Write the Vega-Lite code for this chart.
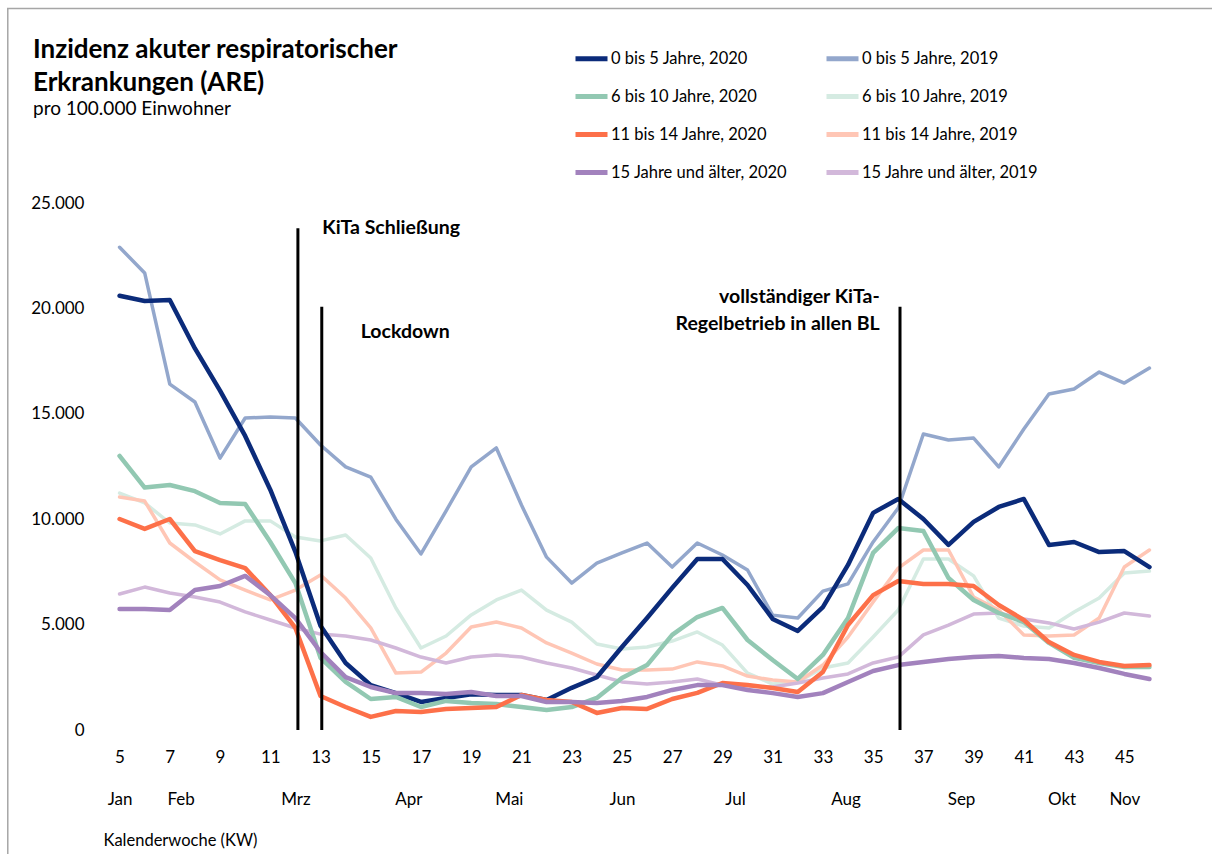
{
  "$schema": "https://vega.github.io/schema/vega-lite/v6.json",
  "width": 1055,
  "height": 527,
  "autosize": {"type": "none"},
  "padding": {"left": 107, "top": 203, "right": 50, "bottom": 124},
  "background": "white",
  "title": {
    "text": ["Inzidenz akuter respiratorischer", "Erkrankungen (ARE)"],
    "subtitle": "pro 100.000 Einwohner",
    "anchor": "start",
    "frame": "group",
    "dx": -74,
    "offset": -111,
    "font": "Lato",
    "fontSize": 26,
    "fontWeight": "bold",
    "lineHeight": 33,
    "color": "#000000",
    "subtitleFont": "Lato",
    "subtitleFontSize": 19,
    "subtitleColor": "#000000",
    "subtitlePadding": 4
  },
  "config": {
    "view": {"stroke": null},
    "font": "Lato",
    "axis": {"labelFont": "Lato", "titleFont": "Lato", "labelColor": "#000000", "titleColor": "#000000"},
    "legend": {"labelFont": "Lato"}
  },
  "datasets": {
    "kurven": [
      {"g": "0 bis 5 Jahre, 2020", "kw": 5, "v": 20600}, {"g": "0 bis 5 Jahre, 2020", "kw": 6, "v": 20350}, {"g": "0 bis 5 Jahre, 2020", "kw": 7, "v": 20400}, {"g": "0 bis 5 Jahre, 2020", "kw": 8, "v": 18100}, {"g": "0 bis 5 Jahre, 2020", "kw": 9, "v": 16100}, {"g": "0 bis 5 Jahre, 2020", "kw": 10, "v": 13950}, {"g": "0 bis 5 Jahre, 2020", "kw": 11, "v": 11400}, {"g": "0 bis 5 Jahre, 2020", "kw": 12, "v": 8450}, {"g": "0 bis 5 Jahre, 2020", "kw": 13, "v": 4950}, {"g": "0 bis 5 Jahre, 2020", "kw": 14, "v": 3180}, {"g": "0 bis 5 Jahre, 2020", "kw": 15, "v": 2130}, {"g": "0 bis 5 Jahre, 2020", "kw": 16, "v": 1750}, {"g": "0 bis 5 Jahre, 2020", "kw": 17, "v": 1330}, {"g": "0 bis 5 Jahre, 2020", "kw": 18, "v": 1520}, {"g": "0 bis 5 Jahre, 2020", "kw": 19, "v": 1700}, {"g": "0 bis 5 Jahre, 2020", "kw": 20, "v": 1660}, {"g": "0 bis 5 Jahre, 2020", "kw": 21, "v": 1660}, {"g": "0 bis 5 Jahre, 2020", "kw": 22, "v": 1420}, {"g": "0 bis 5 Jahre, 2020", "kw": 23, "v": 2000}, {"g": "0 bis 5 Jahre, 2020", "kw": 24, "v": 2500}, {"g": "0 bis 5 Jahre, 2020", "kw": 25, "v": 3940}, {"g": "0 bis 5 Jahre, 2020", "kw": 26, "v": 5310}, {"g": "0 bis 5 Jahre, 2020", "kw": 27, "v": 6740}, {"g": "0 bis 5 Jahre, 2020", "kw": 28, "v": 8110}, {"g": "0 bis 5 Jahre, 2020", "kw": 29, "v": 8110}, {"g": "0 bis 5 Jahre, 2020", "kw": 30, "v": 6880}, {"g": "0 bis 5 Jahre, 2020", "kw": 31, "v": 5270}, {"g": "0 bis 5 Jahre, 2020", "kw": 32, "v": 4700}, {"g": "0 bis 5 Jahre, 2020", "kw": 33, "v": 5830}, {"g": "0 bis 5 Jahre, 2020", "kw": 34, "v": 7830}, {"g": "0 bis 5 Jahre, 2020", "kw": 35, "v": 10300}, {"g": "0 bis 5 Jahre, 2020", "kw": 36, "v": 10960}, {"g": "0 bis 5 Jahre, 2020", "kw": 37, "v": 10010}, {"g": "0 bis 5 Jahre, 2020", "kw": 38, "v": 8780}, {"g": "0 bis 5 Jahre, 2020", "kw": 39, "v": 9870}, {"g": "0 bis 5 Jahre, 2020", "kw": 40, "v": 10580}, {"g": "0 bis 5 Jahre, 2020", "kw": 41, "v": 10960}, {"g": "0 bis 5 Jahre, 2020", "kw": 42, "v": 8780}, {"g": "0 bis 5 Jahre, 2020", "kw": 43, "v": 8920}, {"g": "0 bis 5 Jahre, 2020", "kw": 44, "v": 8440}, {"g": "0 bis 5 Jahre, 2020", "kw": 45, "v": 8490}, {"g": "0 bis 5 Jahre, 2020", "kw": 46, "v": 7730},
      {"g": "0 bis 5 Jahre, 2019", "kw": 5, "v": 22900}, {"g": "0 bis 5 Jahre, 2019", "kw": 6, "v": 21680}, {"g": "0 bis 5 Jahre, 2019", "kw": 7, "v": 16410}, {"g": "0 bis 5 Jahre, 2019", "kw": 8, "v": 15560}, {"g": "0 bis 5 Jahre, 2019", "kw": 9, "v": 12900}, {"g": "0 bis 5 Jahre, 2019", "kw": 10, "v": 14800}, {"g": "0 bis 5 Jahre, 2019", "kw": 11, "v": 14850}, {"g": "0 bis 5 Jahre, 2019", "kw": 12, "v": 14800}, {"g": "0 bis 5 Jahre, 2019", "kw": 13, "v": 13520}, {"g": "0 bis 5 Jahre, 2019", "kw": 14, "v": 12480}, {"g": "0 bis 5 Jahre, 2019", "kw": 15, "v": 12000}, {"g": "0 bis 5 Jahre, 2019", "kw": 16, "v": 10000}, {"g": "0 bis 5 Jahre, 2019", "kw": 17, "v": 8350}, {"g": "0 bis 5 Jahre, 2019", "kw": 18, "v": 10400}, {"g": "0 bis 5 Jahre, 2019", "kw": 19, "v": 12480}, {"g": "0 bis 5 Jahre, 2019", "kw": 20, "v": 13380}, {"g": "0 bis 5 Jahre, 2019", "kw": 21, "v": 10670}, {"g": "0 bis 5 Jahre, 2019", "kw": 22, "v": 8200}, {"g": "0 bis 5 Jahre, 2019", "kw": 23, "v": 6970}, {"g": "0 bis 5 Jahre, 2019", "kw": 24, "v": 7920}, {"g": "0 bis 5 Jahre, 2019", "kw": 25, "v": 8400}, {"g": "0 bis 5 Jahre, 2019", "kw": 26, "v": 8870}, {"g": "0 bis 5 Jahre, 2019", "kw": 27, "v": 7730}, {"g": "0 bis 5 Jahre, 2019", "kw": 28, "v": 8870}, {"g": "0 bis 5 Jahre, 2019", "kw": 29, "v": 8300}, {"g": "0 bis 5 Jahre, 2019", "kw": 30, "v": 7590}, {"g": "0 bis 5 Jahre, 2019", "kw": 31, "v": 5450}, {"g": "0 bis 5 Jahre, 2019", "kw": 32, "v": 5310}, {"g": "0 bis 5 Jahre, 2019", "kw": 33, "v": 6590}, {"g": "0 bis 5 Jahre, 2019", "kw": 34, "v": 6930}, {"g": "0 bis 5 Jahre, 2019", "kw": 35, "v": 8920}, {"g": "0 bis 5 Jahre, 2019", "kw": 36, "v": 10530}, {"g": "0 bis 5 Jahre, 2019", "kw": 37, "v": 14040}, {"g": "0 bis 5 Jahre, 2019", "kw": 38, "v": 13760}, {"g": "0 bis 5 Jahre, 2019", "kw": 39, "v": 13850}, {"g": "0 bis 5 Jahre, 2019", "kw": 40, "v": 12480}, {"g": "0 bis 5 Jahre, 2019", "kw": 41, "v": 14280}, {"g": "0 bis 5 Jahre, 2019", "kw": 42, "v": 15940}, {"g": "0 bis 5 Jahre, 2019", "kw": 43, "v": 16180}, {"g": "0 bis 5 Jahre, 2019", "kw": 44, "v": 16980}, {"g": "0 bis 5 Jahre, 2019", "kw": 45, "v": 16460}, {"g": "0 bis 5 Jahre, 2019", "kw": 46, "v": 17170},
      {"g": "6 bis 10 Jahre, 2020", "kw": 5, "v": 13000}, {"g": "6 bis 10 Jahre, 2020", "kw": 6, "v": 11500}, {"g": "6 bis 10 Jahre, 2020", "kw": 7, "v": 11620}, {"g": "6 bis 10 Jahre, 2020", "kw": 8, "v": 11330}, {"g": "6 bis 10 Jahre, 2020", "kw": 9, "v": 10770}, {"g": "6 bis 10 Jahre, 2020", "kw": 10, "v": 10720}, {"g": "6 bis 10 Jahre, 2020", "kw": 11, "v": 8920}, {"g": "6 bis 10 Jahre, 2020", "kw": 12, "v": 6970}, {"g": "6 bis 10 Jahre, 2020", "kw": 13, "v": 3420}, {"g": "6 bis 10 Jahre, 2020", "kw": 14, "v": 2280}, {"g": "6 bis 10 Jahre, 2020", "kw": 15, "v": 1470}, {"g": "6 bis 10 Jahre, 2020", "kw": 16, "v": 1570}, {"g": "6 bis 10 Jahre, 2020", "kw": 17, "v": 1090}, {"g": "6 bis 10 Jahre, 2020", "kw": 18, "v": 1380}, {"g": "6 bis 10 Jahre, 2020", "kw": 19, "v": 1280}, {"g": "6 bis 10 Jahre, 2020", "kw": 20, "v": 1230}, {"g": "6 bis 10 Jahre, 2020", "kw": 21, "v": 1090}, {"g": "6 bis 10 Jahre, 2020", "kw": 22, "v": 950}, {"g": "6 bis 10 Jahre, 2020", "kw": 23, "v": 1090}, {"g": "6 bis 10 Jahre, 2020", "kw": 24, "v": 1520}, {"g": "6 bis 10 Jahre, 2020", "kw": 25, "v": 2470}, {"g": "6 bis 10 Jahre, 2020", "kw": 26, "v": 3080}, {"g": "6 bis 10 Jahre, 2020", "kw": 27, "v": 4510}, {"g": "6 bis 10 Jahre, 2020", "kw": 28, "v": 5360}, {"g": "6 bis 10 Jahre, 2020", "kw": 29, "v": 5790}, {"g": "6 bis 10 Jahre, 2020", "kw": 30, "v": 4270}, {"g": "6 bis 10 Jahre, 2020", "kw": 31, "v": 3320}, {"g": "6 bis 10 Jahre, 2020", "kw": 32, "v": 2420}, {"g": "6 bis 10 Jahre, 2020", "kw": 33, "v": 3560}, {"g": "6 bis 10 Jahre, 2020", "kw": 34, "v": 5310}, {"g": "6 bis 10 Jahre, 2020", "kw": 35, "v": 8400}, {"g": "6 bis 10 Jahre, 2020", "kw": 36, "v": 9580}, {"g": "6 bis 10 Jahre, 2020", "kw": 37, "v": 9440}, {"g": "6 bis 10 Jahre, 2020", "kw": 38, "v": 7210}, {"g": "6 bis 10 Jahre, 2020", "kw": 39, "v": 6170}, {"g": "6 bis 10 Jahre, 2020", "kw": 40, "v": 5550}, {"g": "6 bis 10 Jahre, 2020", "kw": 41, "v": 5120}, {"g": "6 bis 10 Jahre, 2020", "kw": 42, "v": 4130}, {"g": "6 bis 10 Jahre, 2020", "kw": 43, "v": 3420}, {"g": "6 bis 10 Jahre, 2020", "kw": 44, "v": 3180}, {"g": "6 bis 10 Jahre, 2020", "kw": 45, "v": 2990}, {"g": "6 bis 10 Jahre, 2020", "kw": 46, "v": 2990},
      {"g": "6 bis 10 Jahre, 2019", "kw": 5, "v": 11240}, {"g": "6 bis 10 Jahre, 2019", "kw": 6, "v": 10770}, {"g": "6 bis 10 Jahre, 2019", "kw": 7, "v": 9820}, {"g": "6 bis 10 Jahre, 2019", "kw": 8, "v": 9730}, {"g": "6 bis 10 Jahre, 2019", "kw": 9, "v": 9300}, {"g": "6 bis 10 Jahre, 2019", "kw": 10, "v": 9920}, {"g": "6 bis 10 Jahre, 2019", "kw": 11, "v": 9920}, {"g": "6 bis 10 Jahre, 2019", "kw": 12, "v": 9160}, {"g": "6 bis 10 Jahre, 2019", "kw": 13, "v": 8970}, {"g": "6 bis 10 Jahre, 2019", "kw": 14, "v": 9250}, {"g": "6 bis 10 Jahre, 2019", "kw": 15, "v": 8160}, {"g": "6 bis 10 Jahre, 2019", "kw": 16, "v": 5790}, {"g": "6 bis 10 Jahre, 2019", "kw": 17, "v": 3890}, {"g": "6 bis 10 Jahre, 2019", "kw": 18, "v": 4460}, {"g": "6 bis 10 Jahre, 2019", "kw": 19, "v": 5460}, {"g": "6 bis 10 Jahre, 2019", "kw": 20, "v": 6170}, {"g": "6 bis 10 Jahre, 2019", "kw": 21, "v": 6640}, {"g": "6 bis 10 Jahre, 2019", "kw": 22, "v": 5690}, {"g": "6 bis 10 Jahre, 2019", "kw": 23, "v": 5120}, {"g": "6 bis 10 Jahre, 2019", "kw": 24, "v": 4080}, {"g": "6 bis 10 Jahre, 2019", "kw": 25, "v": 3840}, {"g": "6 bis 10 Jahre, 2019", "kw": 26, "v": 3940}, {"g": "6 bis 10 Jahre, 2019", "kw": 27, "v": 4220}, {"g": "6 bis 10 Jahre, 2019", "kw": 28, "v": 4650}, {"g": "6 bis 10 Jahre, 2019", "kw": 29, "v": 4030}, {"g": "6 bis 10 Jahre, 2019", "kw": 30, "v": 2700}, {"g": "6 bis 10 Jahre, 2019", "kw": 31, "v": 2180}, {"g": "6 bis 10 Jahre, 2019", "kw": 32, "v": 2280}, {"g": "6 bis 10 Jahre, 2019", "kw": 33, "v": 2940}, {"g": "6 bis 10 Jahre, 2019", "kw": 34, "v": 3180}, {"g": "6 bis 10 Jahre, 2019", "kw": 35, "v": 4410}, {"g": "6 bis 10 Jahre, 2019", "kw": 36, "v": 5690}, {"g": "6 bis 10 Jahre, 2019", "kw": 37, "v": 8110}, {"g": "6 bis 10 Jahre, 2019", "kw": 38, "v": 8110}, {"g": "6 bis 10 Jahre, 2019", "kw": 39, "v": 7310}, {"g": "6 bis 10 Jahre, 2019", "kw": 40, "v": 5310}, {"g": "6 bis 10 Jahre, 2019", "kw": 41, "v": 4930}, {"g": "6 bis 10 Jahre, 2019", "kw": 42, "v": 4840}, {"g": "6 bis 10 Jahre, 2019", "kw": 43, "v": 5600}, {"g": "6 bis 10 Jahre, 2019", "kw": 44, "v": 6260}, {"g": "6 bis 10 Jahre, 2019", "kw": 45, "v": 7450}, {"g": "6 bis 10 Jahre, 2019", "kw": 46, "v": 7540},
      {"g": "11 bis 14 Jahre, 2020", "kw": 5, "v": 10010}, {"g": "11 bis 14 Jahre, 2020", "kw": 6, "v": 9540}, {"g": "11 bis 14 Jahre, 2020", "kw": 7, "v": 10010}, {"g": "11 bis 14 Jahre, 2020", "kw": 8, "v": 8490}, {"g": "11 bis 14 Jahre, 2020", "kw": 9, "v": 8060}, {"g": "11 bis 14 Jahre, 2020", "kw": 10, "v": 7680}, {"g": "11 bis 14 Jahre, 2020", "kw": 11, "v": 6400}, {"g": "11 bis 14 Jahre, 2020", "kw": 12, "v": 4840}, {"g": "11 bis 14 Jahre, 2020", "kw": 13, "v": 1610}, {"g": "11 bis 14 Jahre, 2020", "kw": 14, "v": 1090}, {"g": "11 bis 14 Jahre, 2020", "kw": 15, "v": 620}, {"g": "11 bis 14 Jahre, 2020", "kw": 16, "v": 900}, {"g": "11 bis 14 Jahre, 2020", "kw": 17, "v": 850}, {"g": "11 bis 14 Jahre, 2020", "kw": 18, "v": 1000}, {"g": "11 bis 14 Jahre, 2020", "kw": 19, "v": 1040}, {"g": "11 bis 14 Jahre, 2020", "kw": 20, "v": 1090}, {"g": "11 bis 14 Jahre, 2020", "kw": 21, "v": 1660}, {"g": "11 bis 14 Jahre, 2020", "kw": 22, "v": 1420}, {"g": "11 bis 14 Jahre, 2020", "kw": 23, "v": 1330}, {"g": "11 bis 14 Jahre, 2020", "kw": 24, "v": 810}, {"g": "11 bis 14 Jahre, 2020", "kw": 25, "v": 1040}, {"g": "11 bis 14 Jahre, 2020", "kw": 26, "v": 1000}, {"g": "11 bis 14 Jahre, 2020", "kw": 27, "v": 1470}, {"g": "11 bis 14 Jahre, 2020", "kw": 28, "v": 1760}, {"g": "11 bis 14 Jahre, 2020", "kw": 29, "v": 2230}, {"g": "11 bis 14 Jahre, 2020", "kw": 30, "v": 2130}, {"g": "11 bis 14 Jahre, 2020", "kw": 31, "v": 1990}, {"g": "11 bis 14 Jahre, 2020", "kw": 32, "v": 1800}, {"g": "11 bis 14 Jahre, 2020", "kw": 33, "v": 2750}, {"g": "11 bis 14 Jahre, 2020", "kw": 34, "v": 4980}, {"g": "11 bis 14 Jahre, 2020", "kw": 35, "v": 6400}, {"g": "11 bis 14 Jahre, 2020", "kw": 36, "v": 7070}, {"g": "11 bis 14 Jahre, 2020", "kw": 37, "v": 6930}, {"g": "11 bis 14 Jahre, 2020", "kw": 38, "v": 6930}, {"g": "11 bis 14 Jahre, 2020", "kw": 39, "v": 6830}, {"g": "11 bis 14 Jahre, 2020", "kw": 40, "v": 5930}, {"g": "11 bis 14 Jahre, 2020", "kw": 41, "v": 5220}, {"g": "11 bis 14 Jahre, 2020", "kw": 42, "v": 4170}, {"g": "11 bis 14 Jahre, 2020", "kw": 43, "v": 3560}, {"g": "11 bis 14 Jahre, 2020", "kw": 44, "v": 3230}, {"g": "11 bis 14 Jahre, 2020", "kw": 45, "v": 3040}, {"g": "11 bis 14 Jahre, 2020", "kw": 46, "v": 3080},
      {"g": "11 bis 14 Jahre, 2019", "kw": 5, "v": 11050}, {"g": "11 bis 14 Jahre, 2019", "kw": 6, "v": 10860}, {"g": "11 bis 14 Jahre, 2019", "kw": 7, "v": 8870}, {"g": "11 bis 14 Jahre, 2019", "kw": 8, "v": 7970}, {"g": "11 bis 14 Jahre, 2019", "kw": 9, "v": 7120}, {"g": "11 bis 14 Jahre, 2019", "kw": 10, "v": 6640}, {"g": "11 bis 14 Jahre, 2019", "kw": 11, "v": 6170}, {"g": "11 bis 14 Jahre, 2019", "kw": 12, "v": 6640}, {"g": "11 bis 14 Jahre, 2019", "kw": 13, "v": 7350}, {"g": "11 bis 14 Jahre, 2019", "kw": 14, "v": 6260}, {"g": "11 bis 14 Jahre, 2019", "kw": 15, "v": 4840}, {"g": "11 bis 14 Jahre, 2019", "kw": 16, "v": 2700}, {"g": "11 bis 14 Jahre, 2019", "kw": 17, "v": 2750}, {"g": "11 bis 14 Jahre, 2019", "kw": 18, "v": 3650}, {"g": "11 bis 14 Jahre, 2019", "kw": 19, "v": 4890}, {"g": "11 bis 14 Jahre, 2019", "kw": 20, "v": 5120}, {"g": "11 bis 14 Jahre, 2019", "kw": 21, "v": 4840}, {"g": "11 bis 14 Jahre, 2019", "kw": 22, "v": 4130}, {"g": "11 bis 14 Jahre, 2019", "kw": 23, "v": 3650}, {"g": "11 bis 14 Jahre, 2019", "kw": 24, "v": 3130}, {"g": "11 bis 14 Jahre, 2019", "kw": 25, "v": 2850}, {"g": "11 bis 14 Jahre, 2019", "kw": 26, "v": 2850}, {"g": "11 bis 14 Jahre, 2019", "kw": 27, "v": 2890}, {"g": "11 bis 14 Jahre, 2019", "kw": 28, "v": 3230}, {"g": "11 bis 14 Jahre, 2019", "kw": 29, "v": 3040}, {"g": "11 bis 14 Jahre, 2019", "kw": 30, "v": 2560}, {"g": "11 bis 14 Jahre, 2019", "kw": 31, "v": 2370}, {"g": "11 bis 14 Jahre, 2019", "kw": 32, "v": 2280}, {"g": "11 bis 14 Jahre, 2019", "kw": 33, "v": 3080}, {"g": "11 bis 14 Jahre, 2019", "kw": 34, "v": 4410}, {"g": "11 bis 14 Jahre, 2019", "kw": 35, "v": 6070}, {"g": "11 bis 14 Jahre, 2019", "kw": 36, "v": 7680}, {"g": "11 bis 14 Jahre, 2019", "kw": 37, "v": 8540}, {"g": "11 bis 14 Jahre, 2019", "kw": 38, "v": 8540}, {"g": "11 bis 14 Jahre, 2019", "kw": 39, "v": 6310}, {"g": "11 bis 14 Jahre, 2019", "kw": 40, "v": 5690}, {"g": "11 bis 14 Jahre, 2019", "kw": 41, "v": 4510}, {"g": "11 bis 14 Jahre, 2019", "kw": 42, "v": 4460}, {"g": "11 bis 14 Jahre, 2019", "kw": 43, "v": 4510}, {"g": "11 bis 14 Jahre, 2019", "kw": 44, "v": 5310}, {"g": "11 bis 14 Jahre, 2019", "kw": 45, "v": 7730}, {"g": "11 bis 14 Jahre, 2019", "kw": 46, "v": 8540},
      {"g": "15 Jahre und älter, 2020", "kw": 5, "v": 5740}, {"g": "15 Jahre und älter, 2020", "kw": 6, "v": 5740}, {"g": "15 Jahre und älter, 2020", "kw": 7, "v": 5690}, {"g": "15 Jahre und älter, 2020", "kw": 8, "v": 6640}, {"g": "15 Jahre und älter, 2020", "kw": 9, "v": 6830}, {"g": "15 Jahre und älter, 2020", "kw": 10, "v": 7310}, {"g": "15 Jahre und älter, 2020", "kw": 11, "v": 6400}, {"g": "15 Jahre und älter, 2020", "kw": 12, "v": 5310}, {"g": "15 Jahre und älter, 2020", "kw": 13, "v": 3700}, {"g": "15 Jahre und älter, 2020", "kw": 14, "v": 2510}, {"g": "15 Jahre und älter, 2020", "kw": 15, "v": 2040}, {"g": "15 Jahre und älter, 2020", "kw": 16, "v": 1750}, {"g": "15 Jahre und älter, 2020", "kw": 17, "v": 1750}, {"g": "15 Jahre und älter, 2020", "kw": 18, "v": 1710}, {"g": "15 Jahre und älter, 2020", "kw": 19, "v": 1800}, {"g": "15 Jahre und älter, 2020", "kw": 20, "v": 1610}, {"g": "15 Jahre und älter, 2020", "kw": 21, "v": 1610}, {"g": "15 Jahre und älter, 2020", "kw": 22, "v": 1330}, {"g": "15 Jahre und älter, 2020", "kw": 23, "v": 1330}, {"g": "15 Jahre und älter, 2020", "kw": 24, "v": 1280}, {"g": "15 Jahre und älter, 2020", "kw": 25, "v": 1380}, {"g": "15 Jahre und älter, 2020", "kw": 26, "v": 1570}, {"g": "15 Jahre und älter, 2020", "kw": 27, "v": 1900}, {"g": "15 Jahre und älter, 2020", "kw": 28, "v": 2130}, {"g": "15 Jahre und älter, 2020", "kw": 29, "v": 2130}, {"g": "15 Jahre und älter, 2020", "kw": 30, "v": 1900}, {"g": "15 Jahre und älter, 2020", "kw": 31, "v": 1750}, {"g": "15 Jahre und älter, 2020", "kw": 32, "v": 1570}, {"g": "15 Jahre und älter, 2020", "kw": 33, "v": 1750}, {"g": "15 Jahre und älter, 2020", "kw": 34, "v": 2280}, {"g": "15 Jahre und älter, 2020", "kw": 35, "v": 2800}, {"g": "15 Jahre und älter, 2020", "kw": 36, "v": 3080}, {"g": "15 Jahre und älter, 2020", "kw": 37, "v": 3230}, {"g": "15 Jahre und älter, 2020", "kw": 38, "v": 3370}, {"g": "15 Jahre und älter, 2020", "kw": 39, "v": 3460}, {"g": "15 Jahre und älter, 2020", "kw": 40, "v": 3510}, {"g": "15 Jahre und älter, 2020", "kw": 41, "v": 3420}, {"g": "15 Jahre und älter, 2020", "kw": 42, "v": 3370}, {"g": "15 Jahre und älter, 2020", "kw": 43, "v": 3180}, {"g": "15 Jahre und älter, 2020", "kw": 44, "v": 2940}, {"g": "15 Jahre und älter, 2020", "kw": 45, "v": 2660}, {"g": "15 Jahre und älter, 2020", "kw": 46, "v": 2420},
      {"g": "15 Jahre und älter, 2019", "kw": 5, "v": 6450}, {"g": "15 Jahre und älter, 2019", "kw": 6, "v": 6780}, {"g": "15 Jahre und älter, 2019", "kw": 7, "v": 6500}, {"g": "15 Jahre und älter, 2019", "kw": 8, "v": 6310}, {"g": "15 Jahre und älter, 2019", "kw": 9, "v": 6070}, {"g": "15 Jahre und älter, 2019", "kw": 10, "v": 5600}, {"g": "15 Jahre und älter, 2019", "kw": 11, "v": 5220}, {"g": "15 Jahre und älter, 2019", "kw": 12, "v": 4840}, {"g": "15 Jahre und älter, 2019", "kw": 13, "v": 4550}, {"g": "15 Jahre und älter, 2019", "kw": 14, "v": 4460}, {"g": "15 Jahre und älter, 2019", "kw": 15, "v": 4270}, {"g": "15 Jahre und älter, 2019", "kw": 16, "v": 3890}, {"g": "15 Jahre und älter, 2019", "kw": 17, "v": 3460}, {"g": "15 Jahre und älter, 2019", "kw": 18, "v": 3180}, {"g": "15 Jahre und älter, 2019", "kw": 19, "v": 3460}, {"g": "15 Jahre und älter, 2019", "kw": 20, "v": 3560}, {"g": "15 Jahre und älter, 2019", "kw": 21, "v": 3460}, {"g": "15 Jahre und älter, 2019", "kw": 22, "v": 3180}, {"g": "15 Jahre und älter, 2019", "kw": 23, "v": 2940}, {"g": "15 Jahre und älter, 2019", "kw": 24, "v": 2610}, {"g": "15 Jahre und älter, 2019", "kw": 25, "v": 2280}, {"g": "15 Jahre und älter, 2019", "kw": 26, "v": 2180}, {"g": "15 Jahre und älter, 2019", "kw": 27, "v": 2280}, {"g": "15 Jahre und älter, 2019", "kw": 28, "v": 2420}, {"g": "15 Jahre und älter, 2019", "kw": 29, "v": 2130}, {"g": "15 Jahre und älter, 2019", "kw": 30, "v": 2090}, {"g": "15 Jahre und älter, 2019", "kw": 31, "v": 2040}, {"g": "15 Jahre und älter, 2019", "kw": 32, "v": 2230}, {"g": "15 Jahre und älter, 2019", "kw": 33, "v": 2470}, {"g": "15 Jahre und älter, 2019", "kw": 34, "v": 2660}, {"g": "15 Jahre und älter, 2019", "kw": 35, "v": 3180}, {"g": "15 Jahre und älter, 2019", "kw": 36, "v": 3460}, {"g": "15 Jahre und älter, 2019", "kw": 37, "v": 4510}, {"g": "15 Jahre und älter, 2019", "kw": 38, "v": 4980}, {"g": "15 Jahre und älter, 2019", "kw": 39, "v": 5500}, {"g": "15 Jahre und älter, 2019", "kw": 40, "v": 5550}, {"g": "15 Jahre und älter, 2019", "kw": 41, "v": 5270}, {"g": "15 Jahre und älter, 2019", "kw": 42, "v": 5080}, {"g": "15 Jahre und älter, 2019", "kw": 43, "v": 4790}, {"g": "15 Jahre und älter, 2019", "kw": 44, "v": 5120}, {"g": "15 Jahre und älter, 2019", "kw": 45, "v": 5550}, {"g": "15 Jahre und älter, 2019", "kw": 46, "v": 5410}
    ],
    "ereignisse": [
      {"kw": 12.1, "oben": 23800},
      {"kw": 13.05, "oben": 20080},
      {"kw": 36.07, "oben": 20080}
    ],
    "links": [
      {"kw": 13.07, "v": 23810, "t": "KiTa Schließung"},
      {"kw": 14.6, "v": 18880, "t": "Lockdown"}
    ],
    "rechts": [
      {"kw": 35.26, "v": 20540, "t": "vollständiger KiTa-"},
      {"kw": 35.26, "v": 19260, "t": "Regelbetrieb in allen BL"}
    ]
  },
  "resolve": {"axis": {"x": "independent", "y": "independent"}},
  "layer": [
    {
      "data": {"values": [{}]},
      "mark": {"type": "rect", "fill": null, "stroke": "#a6a6a6", "strokeWidth": 1.5, "clip": false},
      "encoding": {
        "x": {"datum": 0.55, "type": "quantitative", "axis": null},
        "x2": {"datum": 49},
        "y": {"datum": 34230, "type": "quantitative", "axis": null},
        "y2": {"datum": -8000}
      }
    },
    {
      "data": {"name": "kurven"},
      "transform": [{"filter": "indexof(datum.g, '2019') >= 0"}],
      "mark": {"type": "line", "strokeWidth": 3.5, "strokeJoin": "round", "strokeCap": "round"},
      "encoding": {
        "x": {
          "field": "kw", "type": "quantitative",
          "scale": {"domain": [4.5, 46.5], "nice": false, "zero": false},
          "axis": {
            "orient": "bottom",
            "values": [5, 7, 9, 11, 13, 15, 17, 19, 21, 23, 25, 27, 29, 31, 33, 35, 37, 39, 41, 43, 45],
            "grid": false, "domain": false, "ticks": false, "tickSize": 0,
            "labelFontSize": 17, "labelPadding": 19, "labelFlush": false,
            "title": null
          }
        },
        "y": {
          "field": "v", "type": "quantitative",
          "scale": {"domain": [0, 25000], "nice": false},
          "axis": {
            "orient": "left",
            "values": [0, 2500, 5000, 7500, 10000, 12500, 15000, 17500, 20000, 22500, 25000],
            "labelExpr": "datum.value % 5000 === 0 ? replace(format(datum.value, ','), ',', '.') : ''",
            "domain": false, "ticks": false, "tickSize": 0,
            "labelFontSize": 17, "labelPadding": 23,
            "gridColor": {"condition": {"test": "datum.value % 5000 === 0", "value": "#9a9a9a"}, "value": "#b4b4b4"},
            "gridDash": {"condition": {"test": "datum.value % 5000 === 0", "value": []}, "value": [2, 2]},
            "gridWidth": 1.2,
            "title": null
          }
        },
        "color": {
          "field": "g", "type": "nominal",
          "scale": {
            "domain": ["0 bis 5 Jahre, 2020", "0 bis 5 Jahre, 2019", "6 bis 10 Jahre, 2020", "6 bis 10 Jahre, 2019", "11 bis 14 Jahre, 2020", "11 bis 14 Jahre, 2019", "15 Jahre und älter, 2020", "15 Jahre und älter, 2019"],
            "range": ["#0b2b7a", "#93a7cc", "#92c8b2", "#d5ebe2", "#fd7049", "#ffc6b5", "#a282bd", "#d2b8da"]
          },
          "legend": {
            "title": null,
            "orient": "none",
            "direction": "horizontal",
            "legendX": 466,
            "legendY": -163,
            "columns": 2,
            "columnPadding": 28,
            "rowPadding": 9,
            "padding": 0,
            "symbolType": "stroke",
            "symbolSize": 1024,
            "symbolStrokeWidth": 5,
            "labelFontSize": 16.5,
            "labelOffset": 1,
            "labelColor": "#000000",
            "labelLimit": 400
          }
        }
      }
    },
    {
      "data": {"name": "kurven"},
      "transform": [{"filter": "indexof(datum.g, '2020') >= 0"}],
      "mark": {"type": "line", "strokeWidth": 4.5, "strokeJoin": "round", "strokeCap": "round"},
      "encoding": {
        "x": {"field": "kw", "type": "quantitative", "axis": null},
        "y": {"field": "v", "type": "quantitative", "axis": null},
        "color": {"field": "g", "type": "nominal"}
      }
    },
    {
      "data": {"name": "ereignisse"},
      "mark": {"type": "rule", "color": "#000000", "strokeWidth": 3},
      "encoding": {
        "x": {
          "field": "kw", "type": "quantitative",
          "axis": {
            "orient": "bottom",
            "values": [5, 7.43, 12, 16.5, 20.5, 25, 29.5, 33.9, 38.5, 42.5, 45],
            "labelExpr": "['Jan','Feb','Mrz','Apr','Mai','Jun','Jul','Aug','Sep','Okt','Nov'][indexof([5, 7.43, 12, 16.5, 20.5, 25, 29.5, 33.9, 38.5, 42.5, 45], datum.value)]",
            "grid": false, "domain": false, "ticks": false, "tickSize": 0,
            "labelFontSize": 17, "labelPadding": 61, "labelFlush": false,
            "title": "Kalenderwoche (KW)",
            "titleFontSize": 16.5, "titleFontWeight": "normal",
            "titleAnchor": "start", "titleAlign": "left", "titleX": -4, "titlePadding": 25
          }
        },
        "y": {"field": "oben", "type": "quantitative", "axis": null},
        "y2": {"datum": 0}
      }
    },
    {
      "data": {"name": "links"},
      "mark": {"type": "text", "align": "left", "baseline": "middle", "fontWeight": "bold", "fontSize": 19.5, "font": "Lato", "color": "#000000"},
      "encoding": {
        "x": {"field": "kw", "type": "quantitative", "axis": null},
        "y": {"field": "v", "type": "quantitative", "axis": null},
        "text": {"field": "t"}
      }
    },
    {
      "data": {"name": "rechts"},
      "mark": {"type": "text", "align": "right", "baseline": "middle", "fontWeight": "bold", "fontSize": 19.5, "font": "Lato", "color": "#000000"},
      "encoding": {
        "x": {"field": "kw", "type": "quantitative", "axis": null},
        "y": {"field": "v", "type": "quantitative", "axis": null},
        "text": {"field": "t"}
      }
    }
  ]
}
